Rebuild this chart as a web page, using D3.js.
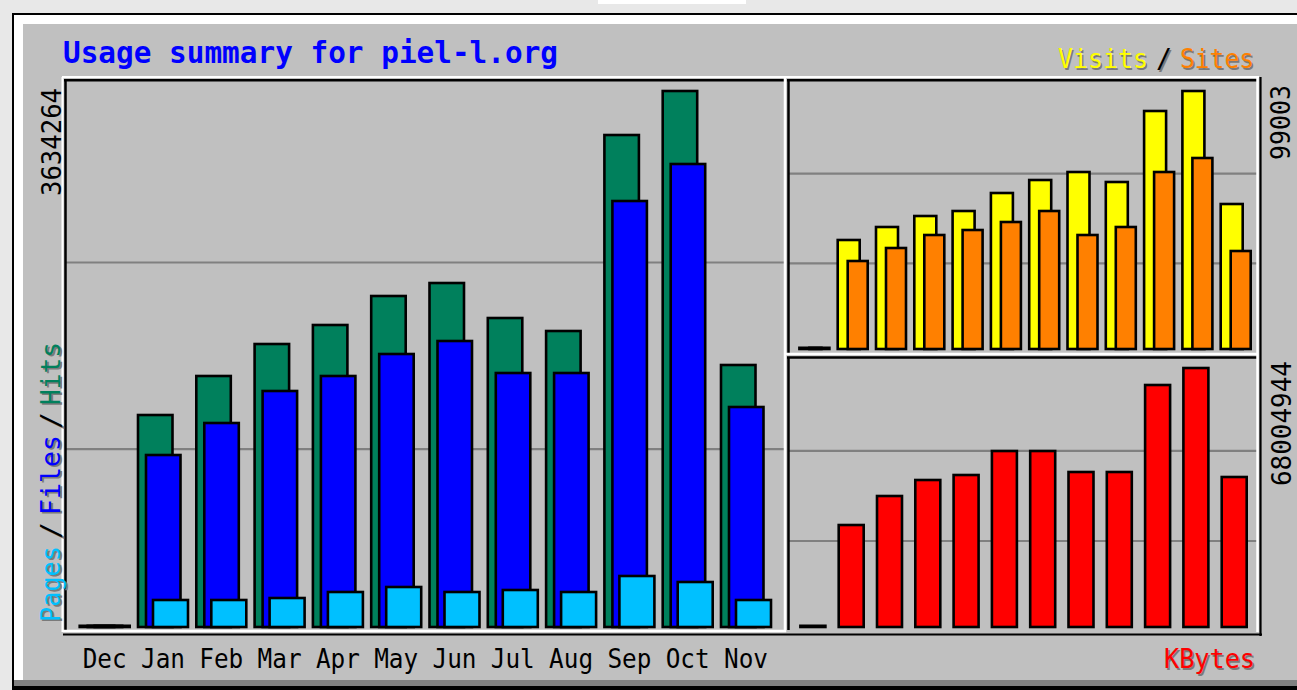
<!DOCTYPE html>
<html><head><meta charset="utf-8">
<script src="https://cdn.jsdelivr.net/npm/d3@7"></script>
<style>html,body{margin:0;padding:0;background:#e8e8e8;overflow:hidden}</style>
</head><body><svg id="c" width="1297" height="690"></svg>
<script>
// ---------------- data ----------------
const months = ["Dec","Jan","Feb","Mar","Apr","May","Jun","Jul","Aug","Sep","Oct","Nov"];
const hits   = [0,1437400,1701900,1918800,2047700,2244300,2332400,2095100,2007000,3335900,3634264,1776500];
const files  = [0,1166200,1383200,1600200,1701900,1851000,1939200,1722200,1722200,2888400,3139300,1491700];
const pages  = [0,183100,183100,196600,237300,271200,237300,250900,237300,345800,305100,183100];
const visits = [0,41830,46815,51036,52955,59863,64850,67920,64085,91330,99003,55640];
const sites  = [0,33770,38757,43746,45664,48734,52955,43746,46815,67920,73292,37606];
const kbytes = [0,26780000,34396000,38598000,39911000,46210000,46210000,40700000,40700000,63543000,68004944,39386000];
const hitsMaxLabel = "3634264";
const visitsMaxLabel = "99003";
const kbytesMaxLabel = "68004944";
const gridFractions = [0.332, 0.68];
const titleText = "Usage summary for piel-l.org";

// ---------------- setup ----------------
const svg = d3.select("#c");
const FONT = "'DejaVu Sans Mono', monospace";
const C = {bg:"#c0c0c0", grid:"#808080", hits:"#00805c", files:"#0000ff", pages:"#00c0ff",
           visits:"#ffff00", sites:"#ff8000", kbytes:"#ff0000", shadow:"#7a7a7a"};

function rect(x,y,w,h,fill){ return svg.append("rect").attr("x",x).attr("y",y).attr("width",w).attr("height",h).attr("fill",fill); }
function line(x1,y1,x2,y2,col,w){ return svg.append("line").attr("x1",x1).attr("y1",y1).attr("x2",x2).attr("y2",y2).attr("stroke",col).attr("stroke-width",w||2.5); }

// page + outer image frame
rect(0,0,1297,690,"#e8e8e8");
rect(598,0,148,4,"#ffffff");
rect(12,13,1300,677,"#000000");
rect(14,15,1300,665,"#ffffff");
rect(23,24,1300,656,C.bg);
rect(14,680,1300,6,"#808080");

// panels background
rect(65,80,720,551,C.bg);
rect(788,80,470,274,C.bg);
rect(788,357,470,274,C.bg);

// ---------------- scales ----------------
const xL = d3.scaleBand().domain(months).range([79.7, 79.7 + 12*58.3]);
const yL = d3.scaleLinear().domain([0, 3634264]).range([627, 91]);
const xR = d3.scaleBand().domain(months).range([799.4, 799.4 + 12*38.3]);
const yV = d3.scaleLinear().domain([0, 99003]).range([349, 91]);
const yK = d3.scaleLinear().domain([0, 68004944]).range([627, 368]);

// grid lines
function grid(scale, max, x0, x1){
  svg.append("g").selectAll("line").data(gridFractions).join("line")
    .attr("x1",x0).attr("x2",x1)
    .attr("y1",d=>scale(d*max)).attr("y2",d=>scale(d*max))
    .attr("stroke",C.grid).attr("stroke-width",2.2);
}
grid(yL, 3634264, 66, 784);
grid(yV, 99003, 789, 1257);
grid(yK, 68004944, 789, 1257);

// bars
function bars(vals, xs, ys, off, w, fill){
  svg.append("g").selectAll("rect").data(vals).join("rect")
    .attr("x",(d,i)=>xs(months[i])+off)
    .attr("width",w)
    .attr("y",d=>Math.min(ys(d), ys(0)-1.2))
    .attr("height",d=>Math.max(ys(0)-ys(d),1.2))
    .attr("fill",fill).attr("stroke","#000").attr("stroke-width",2.6);
}
bars(hits,  xL, yL, 0, 34.5, C.hits);
bars(files, xL, yL, 8, 34.5, C.files);
bars(pages, xL, yL, 15, 35, C.pages);
bars(visits, xR, yV, 0, 22, C.visits);
bars(sites,  xR, yV, 10, 20, C.sites);
bars(kbytes, xR, yK, 1, 25, C.kbytes);

// panel bevels
line(62,77,786,77,"#ffffff",2); line(62.5,77,62.5,632,"#ffffff",2);
line(64,80.2,784,80.2,"#000",2.5); line(65.5,79,65.5,630,"#000",2.5);
line(63,631,786,631,"#ffffff",2.5); line(785,77,785,632,"#ffffff",2.5);
line(786,77,1259,77,"#ffffff",2);
line(787,80.2,1257,80.2,"#000",2.5); line(788.5,79,788.5,353,"#000",2.5);
line(786,354,1258,354,"#ffffff",2.5);
line(787,357.5,1257,357.5,"#000",2.5); line(788.5,357,788.5,630,"#000",2.5);
line(1257.5,77,1257.5,632,"#ffffff",2.5);
line(63,634.5,1262,634.5,"#000",2.2); line(1260.5,77,1260.5,636,"#000",2.2);

// ---------------- text ----------------
function txt(parent, s, x, y, len, fill, opts){
  opts = opts||{};
  const g = parent || svg;
  const mk = (dx,dy,col)=> g.append("text").attr("x",x+dx).attr("y",y+dy).text(s)
      .attr("font-family",FONT).attr("font-size",opts.size||27)
      .attr("font-weight",opts.bold?"bold":"normal")
      .attr("textLength",len).attr("lengthAdjust","spacingAndGlyphs").attr("fill",col);
  if (opts.shadow) mk(opts.sx!==undefined?opts.sx:1.6, opts.sy!==undefined?opts.sy:1.6, C.shadow);
  return mk(0,0,fill);
}

txt(null, titleText, 63, 63, 495, "#0000ff", {bold:true, size:30});

txt(null, "Visits", 1058, 68, 90, C.visits, {shadow:true, size:27});
txt(null, "/", 1156, 68, 16, "#000", {shadow:true, size:27});
txt(null, "Sites", 1180, 68, 74, C.sites, {shadow:true, size:27});

txt(null, "KBytes", 1164, 668, 91, C.kbytes, {shadow:true, size:27});

// month labels
svg.append("g").selectAll("text").data(months).join("text")
  .attr("x",d=>xL(d)+25).attr("y",668).attr("text-anchor","middle")
  .attr("font-family",FONT).attr("font-size",27)
  .attr("textLength",44).attr("lengthAdjust","spacingAndGlyphs")
  .attr("fill","#000").text(d=>d);

// left rotated legend
const lg = svg.append("g").attr("transform","translate(60,622) rotate(-90)");
txt(lg, "Pages", 0, 0, 76, C.pages, {shadow:true, sx:-1.6, sy:1.6});
txt(lg, "/", 83, 0, 17, "#000", {shadow:true, sx:-1.6, sy:1.6});
txt(lg, "Files", 107, 0, 80, C.files, {shadow:true, sx:-1.6, sy:1.6});
txt(lg, "/", 193, 0, 17, "#000", {shadow:true, sx:-1.6, sy:1.6});
txt(lg, "Hits", 217, 0, 63, C.hits, {shadow:true, sx:-1.6, sy:1.6});

// left max
const lm = svg.append("g").attr("transform","translate(61,196) rotate(-90)");
txt(lm, hitsMaxLabel, 0, 0, 108, "#000");

// right max labels (read bottom to top)
const r1 = svg.append("g").attr("transform","translate(1290,160) rotate(-90)");
txt(r1, visitsMaxLabel, 0, 0, 75, "#000");
const r2 = svg.append("g").attr("transform","translate(1291,486) rotate(-90)");
txt(r2, kbytesMaxLabel, 0, 0, 125, "#000");
</script></body></html>
